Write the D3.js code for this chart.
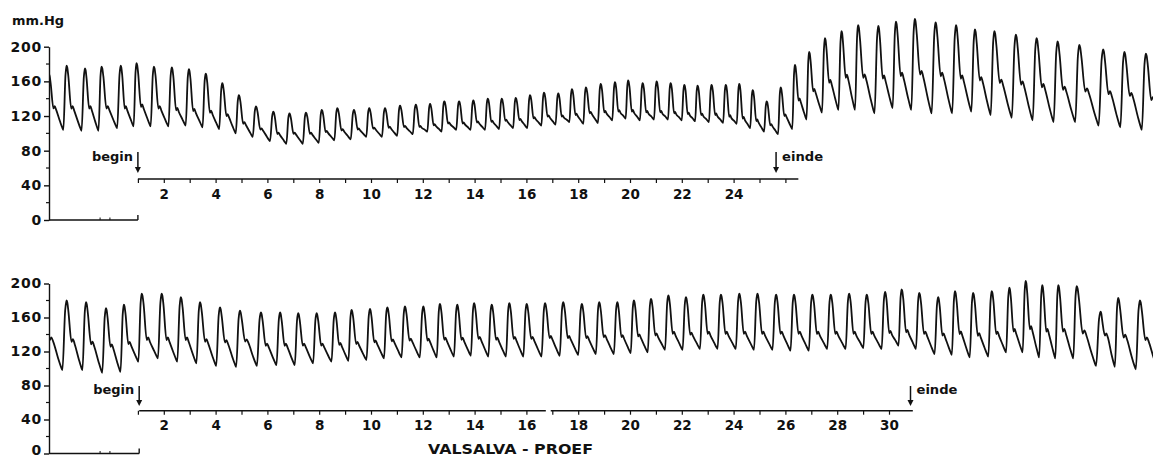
<!DOCTYPE html>
<html><head><meta charset="utf-8">
<script src="https://cdn.jsdelivr.net/npm/d3@7"></script>
<style>
html,body{margin:0;padding:0;background:#fff;}
svg{display:block;}
text{font-family:"DejaVu Sans",sans-serif;font-weight:bold;fill:#111;}
</style></head><body>
<svg id="chart" width="1153" height="458"></svg>
<script>
// ---------- data ----------
const yTickValues = [0, 40, 80, 120, 160, 200];
const yMinorTicks = [20, 60, 100, 140, 180];
const topTimeLabels = [2, 4, 6, 8, 10, 12, 14, 16, 18, 20, 22, 24];
const bottomTimeLabels = [2, 4, 6, 8, 10, 12, 14, 16, 18, 20, 22, 24, 26, 28, 30];
const topSeconds = [1,2,3,4,5,6,7,8,9,10,11,12,13,14,15,16,17,18,19,20,21,22,23,24,25,26];
const bottomSeconds = [1,2,3,4,5,6,7,8,9,10,11,12,13,14,15,16,17,18,19,20,21,22,23,24,25,26,27,28,29,30];
const yUnit = "mm.Hg";
const startLabel = "begin";
const endLabel = "einde";
const title = "VALSALVA - PROEF";
const topBegin = 1, topEnd = 25.64, topAxisEnd = 26.5;
const bottomBegin = 1.05, bottomEnd = 30.83, bottomAxisEnd = 30.92;

// top trace: beat peak times (s), systolic peak, dicrotic shoulder, following trough (mm Hg)
const topBeatTime = [-2.43,-1.75,-1.04,-0.40,0.34,0.95,1.62,2.31,2.97,3.62,4.26,4.90,5.56,6.23,6.85,
  7.49,8.10,8.70,9.34,9.93,10.54,11.12,11.73,12.28,12.83,13.40,13.95,14.51,15.05,15.59,16.14,16.68,
  17.23,17.76,18.30,18.87,19.42,19.93,20.49,21.03,21.57,22.10,22.61,23.15,23.70,24.22,24.74,25.28,
  25.82,26.37,26.92,27.53,28.17,28.81,29.59,30.27,31.00,31.80,32.59,33.32,34.07,34.90,35.70,36.51,
  37.35,38.27,39.09,39.92];
const topSystolic = [168,178,175,177,178,181,177,176,174,169,158,144,131,125,123,124,127,129,127,129,
  129,132,133,134,137,137,138,140,140,141,144,147,146,151,153,157,159,161,158,160,158,156,155,156,156,
  157,150,137,153,179,194,210,218,225,224,229,232,228,225,220,218,214,210,206,202,197,194,192];
const topNotch = [130,130,130,130,130,132,130,128,127,125,121,112,105,100,100,100,102,104,105,106,
  107,108,108,110,112,112,113,114,115,116,118,120,120,122,124,125,126,126,125,125,124,123,122,122,120,
  118,115,110,121,139,150,160,166,166,165,168,170,168,165,163,160,158,155,152,150,147,145,140];
const topDiastolic = [104,103,103,106,108,108,108,109,107,105,100,96,91,88,88,89,92,93,96,96,
  97,99,102,102,104,104,104,105,106,106,109,110,113,111,112,115,117,115,116,116,115,114,113,112,111,
  106,102,99,105,116,124,127,127,123,129,127,123,123,125,121,118,115,113,113,109,107,104,104];

// bottom trace
const bottomBeatTime = [-2.62,-1.75,-1.00,-0.23,0.46,1.15,1.92,2.66,3.40,4.17,4.94,5.75,6.49,7.19,
  7.90,8.61,9.25,9.96,10.63,11.31,12.02,12.66,13.33,13.98,14.66,15.34,16.01,16.72,17.42,18.14,18.81,
  19.51,20.15,20.81,21.48,22.16,22.83,23.51,24.22,24.92,25.64,26.33,27.04,27.75,28.46,29.14,29.85,
  30.49,31.17,31.90,32.55,33.25,33.97,34.65,35.28,35.92,36.54,37.25,38.17,38.85,39.69];
const bottomSystolic = [176,180,178,171,175,188,188,184,178,172,168,166,166,165,165,166,169,170,172,173,
  173,176,175,177,175,177,176,177,178,176,178,178,180,182,186,184,187,187,188,188,187,187,187,187,188,
  187,190,193,189,184,191,189,191,195,203,198,198,197,167,183,180];
const bottomNotch = [135,133,130,127,130,135,135,135,133,132,133,128,128,128,128,129,130,132,133,134,
  134,135,135,136,135,136,136,137,137,137,138,138,139,140,142,141,142,142,142,142,142,142,142,142,142,
  142,143,144,142,140,142,140,142,145,148,145,145,143,140,138,135];
const bottomDiastolic = [98,98,95,96,108,112,108,106,103,102,103,104,104,106,108,109,110,112,113,113,
  113,114,115,114,114,114,114,115,116,117,117,118,119,122,122,123,123,123,122,122,121,121,123,123,124,
  123,127,123,117,116,113,114,119,119,113,112,112,103,102,99,100];

// ---------- drawing ----------
const svg = d3.select("#chart");
const x = d3.scaleLinear().domain([0, 40]).range([112, 1148]);
const axisX = 49;

svg.append("defs").append("clipPath").attr("id", "clip")
  .append("rect").attr("x", axisX + 1).attr("y", 0).attr("width", 1153).attr("height", 458);

// beat outline: upstroke, rounded peak, dicrotic shoulder, diastolic run-off
function wavePoints(times, sys, notch, dia) {
  const pts = [];
  for (let i = 0; i < times.length; i++) {
    const tp = times[i], S = sys[i], N = notch[i], D = dia[i];
    const P = i < times.length - 1 ? times[i + 1] - tp : tp - times[i - 1];
    const Pp = i > 0 ? tp - times[i - 1] : P;
    const Dp = i > 0 ? dia[i - 1] : D;
    const rise = 0.19 * Pp;
    const A = S - D;
    pts.push([tp - rise, Dp]);
    pts.push([tp - 0.35 * rise, S - 0.14 * (S - Dp)]);
    pts.push([tp - 0.1 * rise, S - 0.02 * (S - Dp)]);
    pts.push([tp, S]);
    pts.push([tp + 0.035 * P, S - 0.03 * A]);
    pts.push([tp + 0.09 * P, S - 0.16 * A]);
    pts.push([tp + 0.25 * P, N - 0.02 * A]);
    pts.push([tp + 0.32 * P, N + 0.02 * A]);
    pts.push([tp + 0.41 * P, N - 0.05 * A]);
    pts.push([tp + 0.62 * P, D + 0.38 * (N - D)]);
    pts.push([tp + 0.74 * P, D + 0.12 * (N - D)]);
  }
  return pts;
}

function arrow(g, xp, y1, y2) {
  g.append("line").attr("x1", xp).attr("x2", xp).attr("y1", y1).attr("y2", y2 - 4)
    .attr("stroke", "#111").attr("stroke-width", 1.5);
  g.append("path").attr("d", `M${xp - 3},${y2 - 6}L${xp + 3},${y2 - 6}L${xp},${y2}Z`).attr("fill", "#111");
}

function panel(cfg) {
  const y = d3.scaleLinear().domain([0, 200]).range(cfg.yRange);
  const g = svg.append("g");

  // y axis
  const ya = g.append("g").attr("transform", `translate(${axisX},0)`)
    .call(d3.axisLeft(y).tickValues(yTickValues).tickSize(5).tickSizeOuter(0).tickPadding(2));
  ya.selectAll("path,line").attr("stroke", "#111").attr("stroke-width", 1.4);
  ya.selectAll("text").attr("font-size", 14).attr("font-family", "DejaVu Sans").attr("font-weight", "bold")
    .attr("letter-spacing", "0.8px").attr("fill", "#111")
    .attr("dy", d => (cfg.lowZeroShift && d === 0) ? "0.1em" : "0.32em");
  g.selectAll(".minor").data(yMinorTicks).join("line")
    .attr("x1", axisX - 3).attr("x2", axisX).attr("y1", d => y(d)).attr("y2", d => y(d))
    .attr("stroke", "#111").attr("stroke-width", 1.2);

  // baseline at 0 up to the start
  g.append("line").attr("x1", axisX).attr("x2", x(cfg.begin)).attr("y1", y(0)).attr("y2", y(0))
    .attr("stroke", "#111").attr("stroke-width", 1.4);
  g.append("line").attr("x1", x(cfg.begin)).attr("x2", x(cfg.begin)).attr("y1", y(0)).attr("y2", y(0) - 5)
    .attr("stroke", "#111").attr("stroke-width", 1.4);
  [-0.46, -0.08].forEach(t => g.append("line").attr("x1", x(t)).attr("x2", x(t))
    .attr("y1", y(0)).attr("y2", y(0) - 2.5).attr("stroke", "#111").attr("stroke-width", 1));

  // time axis
  const ta = g.append("g").attr("transform", `translate(0,${cfg.tAxisY})`)
    .call(d3.axisBottom(x).tickValues(cfg.seconds).tickSize(4).tickPadding(6)
      .tickFormat(d => cfg.labels.includes(d) ? d : ""));
  ta.select(".domain").remove();
  ta.selectAll("line").attr("stroke", "#111").attr("stroke-width", 1.2);
  ta.selectAll("text").attr("font-size", 13.5).attr("font-family", "DejaVu Sans").attr("font-weight", "bold").attr("fill", "#111");
  cfg.segments.forEach(([a, b]) => g.append("line").attr("x1", x(a)).attr("x2", x(b))
    .attr("y1", cfg.tAxisY).attr("y2", cfg.tAxisY).attr("stroke", "#111").attr("stroke-width", 1.6));

  // begin / einde markers
  arrow(g, x(cfg.begin), cfg.arrowY[0], cfg.arrowY[1]);
  arrow(g, x(cfg.end), cfg.arrowY[0], cfg.arrowY[1]);
  g.append("text").attr("x", x(cfg.begin) - 46).attr("y", cfg.textY).attr("font-size", 13)
    .attr("textLength", 41).attr("lengthAdjust", "spacingAndGlyphs").text(startLabel);
  g.append("text").attr("x", x(cfg.end) + 6).attr("y", cfg.textY).attr("font-size", 13)
    .attr("textLength", 41).attr("lengthAdjust", "spacingAndGlyphs").text(endLabel);

  // pressure trace
  const line = d3.line().x(d => x(d[0])).y(d => y(d[1])).curve(d3.curveMonotoneX);
  g.append("path").attr("clip-path", "url(#clip)")
    .attr("d", line(wavePoints(cfg.times, cfg.sys, cfg.notch, cfg.dia)))
    .attr("fill", "none").attr("stroke", "#111").attr("stroke-width", 1.8).attr("stroke-linejoin", "round");
  return y;
}

panel({yRange: [220, 46.7], tAxisY: 179, seconds: topSeconds, labels: topTimeLabels,
  segments: [[topBegin, topAxisEnd]], begin: topBegin, end: topEnd, arrowY: [152, 173], textY: 161,
  times: topBeatTime, sys: topSystolic, notch: topNotch, dia: topDiastolic});
panel({yRange: [453.5, 283.5], tAxisY: 410.7, seconds: bottomSeconds, labels: bottomTimeLabels,
  segments: [[bottomBegin, 16.75], [16.94, bottomAxisEnd]], begin: bottomBegin, end: bottomEnd,
  arrowY: [386, 406], textY: 394, lowZeroShift: true,
  times: bottomBeatTime, sys: bottomSystolic, notch: bottomNotch, dia: bottomDiastolic});

svg.append("text").attr("x", 12).attr("y", 25).attr("font-size", 13)
  .attr("textLength", 52).attr("lengthAdjust", "spacingAndGlyphs").text(yUnit);
svg.append("text").attr("x", 428).attr("y", 453.5).attr("font-size", 14)
  .attr("textLength", 165).attr("lengthAdjust", "spacingAndGlyphs").text(title);
</script>
</body></html>
